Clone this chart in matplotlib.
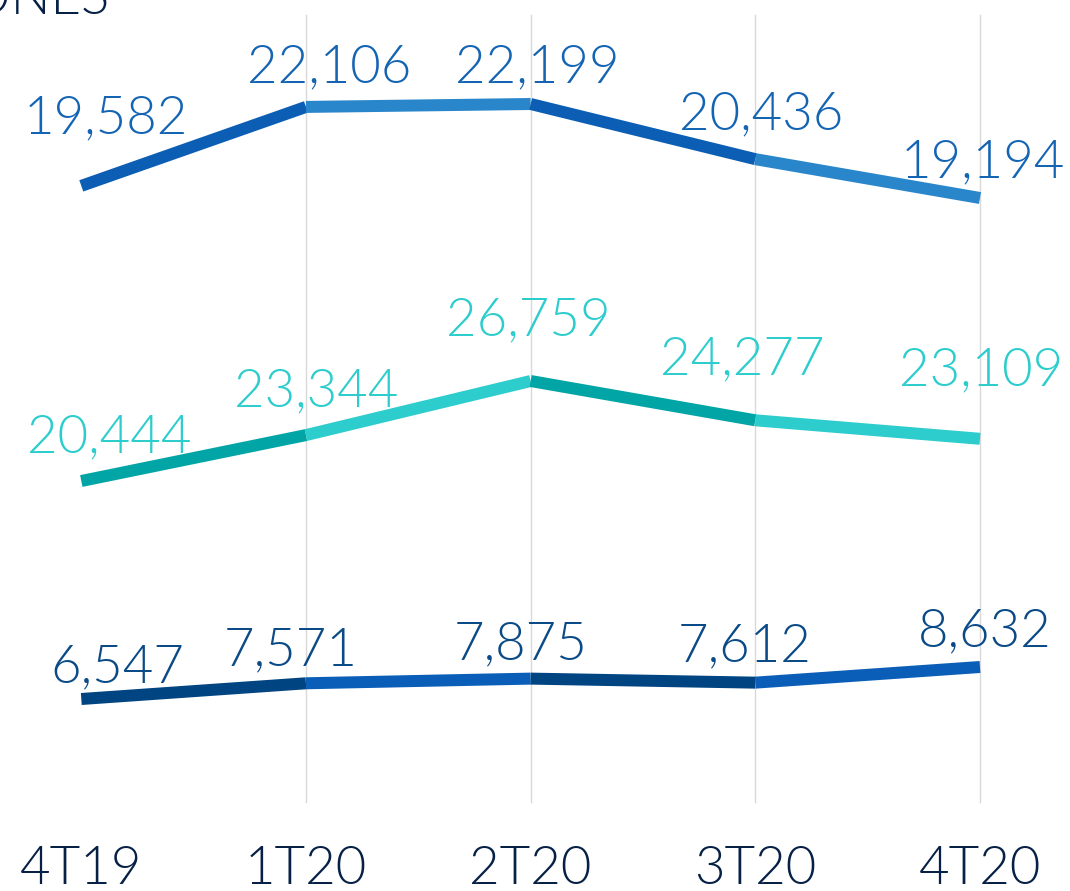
import matplotlib
matplotlib.use("Agg")
import matplotlib.pyplot as plt
import matplotlib.transforms as mtransforms

# ---- data ----
categories = ["4T19", "1T20", "2T20", "3T20", "4T20"]
series_top = [19582, 22106, 22199, 20436, 19194]
series_mid = [20444, 23344, 26759, 24277, 23109]
series_bot = [6547, 7571, 7875, 7612, 8632]
unit_label = "MILLONES"

# ---- styling / layout ----
W, H = 1070, 891
DPI = 100
FONT = "Lato"
WEIGHT = 300
NAVY = "#072146"

top_colors = ["#0b5eb3", "#2a86ca"]
mid_colors = ["#02a5a5", "#2dcccd"]
bot_colors = ["#004481", "#0b5eb8"]
top_label_color = "#1464b4"
mid_label_color = "#2dcccd"
bot_label_color = "#0a4a86"

# per-series y limits (each series on its own scale)
top_ylim = (-2961, 25524)
mid_ylim = (-5448, 50820)
bot_ylim = (-5961, 52084)

# label offsets in pixels (dx, dy of baseline above point)
top_off = [(25, 53), (23, 25), (7, 22), (6, 30), (3, 21)]
mid_off = [(28, 29), (10, 29), (-2, 46), (-13, 46), (1, 53)]
bot_off = [(36, 17), (-15, 18), (-10, 19), (-11, 21), (5, 21)]

fig = plt.figure(figsize=(W / DPI, H / DPI), dpi=DPI)
fig.patch.set_facecolor("white")

PPU = 224.67
xlim = (-81.3 / PPU, 4 + 90 / PPU)
base = fig.add_axes([0, 0, 1, 1])
base.set_xlim(*xlim)
base.set_ylim(0, 1)
base.axis("off")

xs = list(range(len(categories)))
for x in xs[1:]:
    base.axvline(x, ymin=1 - 802 / H, ymax=1 - 15 / H, color="#d9d9d9", lw=1.0, zorder=0)

LW = 12 * 72 / DPI
FS = 38


def draw_series(vals, ylim, colors, lab_color, offsets):
    ax = fig.add_axes([0, 0, 1, 1], sharex=base)
    ax.set_ylim(*ylim)
    ax.axis("off")
    ax.patch.set_alpha(0)
    for i in range(len(vals) - 1):
        ax.plot([xs[i], xs[i + 1]], [vals[i], vals[i + 1]], color=colors[i % 2],
                lw=LW, solid_capstyle="butt", solid_joinstyle="miter", zorder=2)
    for i, v in enumerate(vals):
        dx, dy = offsets[i]
        ax.annotate(f"{v:,}", (xs[i], v), xytext=(dx, dy), textcoords="offset pixels",
                    ha="center", va="baseline", fontsize=FS, color=lab_color,
                    family=FONT, fontweight=WEIGHT, zorder=3)


draw_series(series_top, top_ylim, top_colors, top_label_color, top_off)
draw_series(series_mid, mid_ylim, mid_colors, mid_label_color, mid_off)
draw_series(series_bot, bot_ylim, bot_colors, bot_label_color, bot_off)

trans = mtransforms.blended_transform_factory(base.transData, fig.transFigure)
for x, c in zip(xs, categories):
    base.text(x, 1 - 884 / H, c, transform=trans, ha="center", va="baseline",
              fontsize=FS, color=NAVY, family=FONT, fontweight=WEIGHT)

fig.text(110 / W, 1 - 14 / H, unit_label, ha="right", va="baseline",
         fontsize=FS, color=NAVY, family=FONT, fontweight=WEIGHT)

fig.savefig("out.png", dpi=DPI, facecolor="white")
